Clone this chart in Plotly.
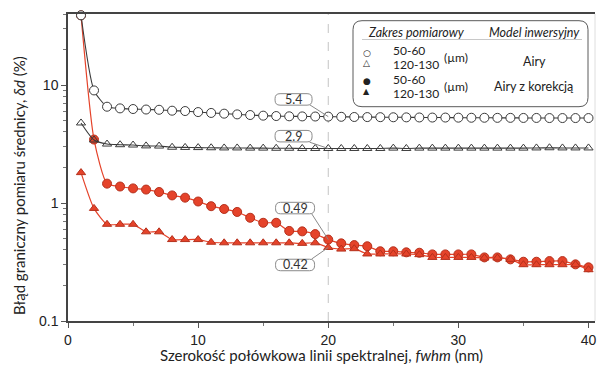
import math
import plotly.graph_objects as go

# Szerokość połówkowa linii spektralnej (nm)
fwhm = list(range(1, 41))

# Błąd graniczny pomiaru średnicy (%) – model Airy
airy_50_60 = [39.0, 9.0, 6.55, 6.34, 6.26, 6.2, 6.17, 6.06, 6.02, 5.9,
              5.8, 5.72, 5.64, 5.57, 5.5, 5.46, 5.43, 5.42, 5.41, 5.4,
              5.38, 5.36, 5.35, 5.34, 5.33, 5.32, 5.31, 5.3, 5.3, 5.29,
              5.28, 5.28, 5.27, 5.27, 5.26, 5.26, 5.25, 5.25, 5.25, 5.25]
airy_120_130 = [4.77, 3.42, 3.16, 3.12, 3.1, 3.05, 3.04, 2.97, 2.96, 2.95,
                2.94, 2.93, 2.93, 2.92, 2.92, 2.91, 2.91, 2.9, 2.9, 2.9,
                2.9, 2.9, 2.9, 2.9, 2.92, 2.9, 2.92, 2.92, 2.92, 2.92,
                2.92, 2.92, 2.92, 2.92, 2.92, 2.93, 2.94, 2.93, 2.93, 2.93]

# Model Airy z korekcją
airy_corr_50_60 = [39.0, 3.45, 1.46, 1.38, 1.33, 1.30, 1.24, 1.16, 1.11, 1.03,
                   0.94, 0.89, 0.84, 0.75, 0.68, 0.68, 0.58, 0.575, 0.545, 0.49,
                   0.455, 0.44, 0.43, 0.39, 0.39, 0.382, 0.379, 0.367, 0.367, 0.367,
                   0.367, 0.346, 0.346, 0.333, 0.318, 0.318, 0.322, 0.322, 0.302, 0.285]
airy_corr_120_130 = [1.81, 0.90, 0.66, 0.66, 0.66, 0.57, 0.57, 0.49, 0.49, 0.49,
                     0.465, 0.46, 0.46, 0.46, 0.46, 0.46, 0.46, 0.455, 0.46, 0.42,
                     0.407, 0.41, 0.37, 0.37, 0.37, 0.37, 0.365, 0.346, 0.346, 0.346,
                     0.346, 0.342, 0.342, 0.333, 0.30, 0.30, 0.30, 0.30, 0.30, 0.272]

y_tick_vals = [0.1, 1, 10]
y_tick_text = ["0.1", "1", "10"]
x_tick_vals = [0, 10, 20, 30, 40]

# fwhm at which the values are called out
x_marker = 20

# ---- page geometry -------------------------------------------------------
W, H = 599, 371
ML, MR, MT, MB = 68, 4, 14, 50
PW, PH = W - ML - MR, H - MT - MB


def px(x):
    return (x - ML) / PW


def py(y):
    return (H - MB - y) / PH


RED = "#E5432A"
RED_EDGE = "#B5301C"
DARK = "#3a3a3a"
FONT = "Lato"

fig = go.Figure()

fig.add_trace(go.Scatter(
    x=fwhm, y=airy_corr_50_60, mode="lines+markers",
    line=dict(color=RED, width=1.2, shape="spline", smoothing=0.6),
    marker=dict(symbol="circle", size=9, color=RED, line=dict(color=RED_EDGE, width=1)),
    cliponaxis=False, showlegend=False))
fig.add_trace(go.Scatter(
    x=fwhm, y=airy_corr_120_130, mode="lines+markers",
    line=dict(color=RED, width=1.2, shape="spline", smoothing=0.6),
    marker=dict(symbol="triangle-up", size=8, color=RED, line=dict(color=RED_EDGE, width=1)),
    cliponaxis=False, showlegend=False))
fig.add_trace(go.Scatter(
    x=fwhm, y=airy_120_130, mode="lines+markers",
    line=dict(color=DARK, width=1.1, shape="spline", smoothing=0.6),
    marker=dict(symbol="triangle-up-open", size=8, color=DARK, line=dict(width=1)),
    cliponaxis=False, showlegend=False))
fig.add_trace(go.Scatter(
    x=fwhm, y=airy_50_60, mode="lines+markers",
    line=dict(color=DARK, width=1.1, shape="spline", smoothing=0.6),
    marker=dict(symbol="circle", size=9, color="white", line=dict(color=DARK, width=1)),
    cliponaxis=False, showlegend=False))

shapes = []
annotations = []

# dashed marker line at fwhm = 20
shapes.append(dict(type="line", xref="x", yref="paper", x0=x_marker, x1=x_marker,
                   y0=0, y1=1, line=dict(color="#c4c4c4", width=1, dash="dash"),
                   layer="below"))
# faint right frame
shapes.append(dict(type="line", xref="paper", yref="paper", x0=1, x1=1, y0=0, y1=1,
                   line=dict(color="#dedede", width=1), layer="below"))


def rounded_rect(x0, y0, x1, y1, r):
    return (f"M {x0 + r},{y0} L {x1 - r},{y0} Q {x1},{y0} {x1},{y0 + r} "
            f"L {x1},{y1 - r} Q {x1},{y1} {x1 - r},{y1} L {x0 + r},{y1} "
            f"Q {x0},{y1} {x0},{y1 - r} L {x0},{y0 + r} Q {x0},{y0} {x0 + r},{y0} Z")


# callouts: (series, box centre offset dx/dy in px (y up), box width, leader start)
callouts = [
    (airy_50_60, -34.7, 17.2, 37, (-18.7, 11.9)),
    (airy_120_130, -34.7, 12.3, 37, (-18.7, 6.3)),
    (airy_corr_50_60, -33.2, 31.5, 39, (-16.7, 26.0)),
    (airy_corr_120_130, -33.2, -17.5, 39, (-16.7, -11.6)),
]
idx = fwhm.index(x_marker)
for series, dx, dy, bw, (lx, ly) in callouts:
    v = series[idx]
    bh = 11.5
    shapes.append(dict(type="path", xref="x", yref="y",
                       xsizemode="pixel", ysizemode="pixel",
                       xanchor=x_marker, yanchor=v,
                       path=f"M {lx},{ly} L 0,0",
                       line=dict(color="#8a8a8a", width=1)))
    shapes.append(dict(type="path", xref="x", yref="y",
                       xsizemode="pixel", ysizemode="pixel",
                       xanchor=x_marker, yanchor=v,
                       path=rounded_rect(dx - bw / 2, dy - bh / 2, dx + bw / 2, dy + bh / 2, 5),
                       line=dict(color="#8a8a8a", width=1), fillcolor="white"))
    annotations.append(dict(x=x_marker, y=math.log10(v), xref="x", yref="y",
                            text=f"{v:g}", showarrow=False, xshift=dx, yshift=dy,
                            font=dict(family=FONT, size=12.5, color="#333")))

# ---- legend box ----------------------------------------------------------
lx0, ly0, lx1, ly1, lr = 353, 20.7, 588, 106.7, 9
rx, ry = lr / PW, lr / PH
X0, X1, Y0, Y1 = px(lx0), px(lx1), py(ly1), py(ly0)
shapes.append(dict(type="path", xref="paper", yref="paper",
                   path=(f"M {X0 + rx},{Y0} L {X1 - rx},{Y0} Q {X1},{Y0} {X1},{Y0 + ry} "
                         f"L {X1},{Y1 - ry} Q {X1},{Y1} {X1 - rx},{Y1} L {X0 + rx},{Y1} "
                         f"Q {X0},{Y1} {X0},{Y1 - ry} L {X0},{Y0 + ry} Q {X0},{Y0} {X0 + rx},{Y0} Z"),
                   line=dict(color="#5a5a5a", width=1), fillcolor="white"))
shapes.append(dict(type="line", xref="paper", yref="paper",
                   x0=px(362), x1=px(582), y0=py(39.5), y1=py(39.5),
                   line=dict(color="#c8c8c8", width=1)))


def label(x, y, text, size=12.5, anchor="center", family=FONT):
    annotations.append(dict(x=px(x), y=py(y), xref="paper", yref="paper", text=text,
                            showarrow=False, xanchor=anchor, yanchor="middle",
                            font=dict(family=family, size=size, color="#222")))


label(416, 32.5, "<i>Zakres pomiarowy</i>")
label(534, 32.5, "<i>Model inwersyjny</i>")
label(366.7, 52.7, "○", size=9, family="DejaVu Sans")
label(366.7, 63.0, "△", size=9, family="DejaVu Sans")
label(366.7, 81.0, "●", size=9, family="DejaVu Sans")
label(366.7, 91.3, "▲", size=8, family="DejaVu Sans")
label(391, 50.5, "50-60", size=12, anchor="left")
label(391, 64.5, "120-130", size=12, anchor="left")
label(391, 79.5, "50-60", size=12, anchor="left")
label(391, 93.0, "120-130", size=12, anchor="left")
label(442, 57.5, "(µm)", size=12, anchor="left")
label(442, 86.5, "(µm)", size=12, anchor="left")
label(534, 61.5, "Airy", size=12.5)
label(534, 86.5, "Airy z korekcją", size=12.5)

# axis titles
annotations.append(dict(x=px(321), y=py(355), xref="paper", yref="paper",
                        text="Szerokość połówkowa linii spektralnej, <i>fwhm</i> (nm)",
                        showarrow=False, xanchor="center", yanchor="middle",
                        font=dict(family=FONT, size=15, color="#222")))
annotations.append(dict(x=px(19), y=py(186), xref="paper", yref="paper",
                        text="Błąd graniczny pomiaru średnicy, <i>δd</i> (%)",
                        showarrow=False, xanchor="center", yanchor="middle", textangle=-90,
                        font=dict(family=FONT, size=15, color="#222")))

fig.update_layout(
    width=W, height=H,
    margin=dict(l=ML, r=MR, t=MT, b=MB),
    paper_bgcolor="white", plot_bgcolor="white",
    shapes=shapes, annotations=annotations,
    xaxis=dict(range=[0, 40.5], tickvals=x_tick_vals, ticks="outside", ticklen=5,
               tickcolor="#555", showline=True, linecolor="#444", linewidth=1.5,
               mirror=True, showgrid=False, zeroline=False,
               minor=dict(dtick=5, ticks="outside", ticklen=3, tickcolor="#777"),
               tickfont=dict(family="Liberation Sans", size=14, color="#222")),
    yaxis=dict(type="log", range=[-1, math.log10(40)], tickvals=y_tick_vals,
               ticktext=y_tick_text, ticks="outside", ticklen=5, tickcolor="#555",
               showline=True, linecolor="#444", linewidth=1.5, showgrid=False,
               zeroline=False,
               minor=dict(dtick="D1", ticks="outside", ticklen=3, tickcolor="#777"),
               tickfont=dict(family="Liberation Sans", size=14, color="#222")),
)

fig.write_html("out.html")
